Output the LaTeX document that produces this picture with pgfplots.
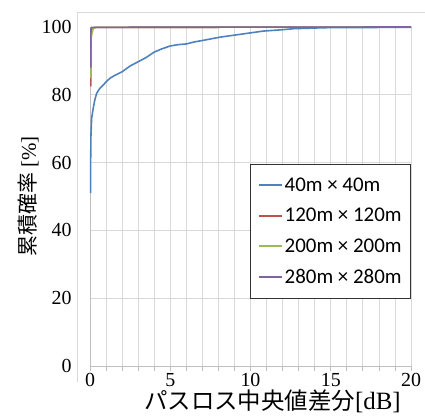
\documentclass[border=0pt]{standalone}
\usepackage{fontspec}
\setmainfont{Liberation Serif}
\newfontfamily\cjk{Noto Sans CJK JP}
\newfontfamily\legfont{Carlito}
\newfontfamily\tnr{Liberation Serif}
\usepackage{pgfplots}
\pgfplotsset{compat=1.18}
\definecolor{exblue}{HTML}{4F81BD}
\definecolor{exred}{HTML}{C0504D}
\definecolor{exgreen}{HTML}{9BBB59}
\definecolor{expurple}{HTML}{8064A2}
\definecolor{gridgray}{HTML}{D9D9D9}
\definecolor{axgray}{HTML}{BFBFBF}
\begin{document}
\begin{tikzpicture}
\begin{axis}[
  scale only axis,
  width=321bp, height=339bp,
  xmin=0, xmax=20, ymin=0, ymax=100,
  xtick={0,5,...,20},
  minor xtick={0,1,...,20},
  ytick={0,20,...,100},
  xmajorgrids, xminorgrids, ymajorgrids,
  grid style={gridgray, line width=0.8pt},
  minor grid style={gridgray, line width=0.8pt},
  axis x line*=bottom, axis y line*=left,
  axis line style={axgray, line width=0.8pt},
  x axis line style={-},
  y axis line style={-},
  tick align=outside,
  major tick length=5bp, minor tick length=5bp,
  xtick style={axgray, line width=0.8pt},
  ytick style={draw=none},
  /pgf/number format/assume math mode=true,
  xticklabel={\tnr\fontsize{20}{22}\selectfont\pgfmathprintnumber{\tick}},
  yticklabel={\tnr\fontsize{20}{22}\selectfont\pgfmathprintnumber{\tick}},
  yticklabel style={xshift=-10bp},
  xticklabel style={inner sep=0pt, yshift=-2bp},
  xlabel={\cjk\fontsize{23.5}{25}\selectfont パスロス中央値差分\tnr\fontsize{25}{26}\selectfont[dB]},
  ylabel={\cjk 累積確率\tnr\ [\%]},
  xlabel style={inner sep=0pt, xshift=22bp, yshift=-3bp},
  ylabel style={font=\fontsize{21}{23}\selectfont, yshift=-4bp},
  legend style={at={(rel axis cs:1,0.595)}, anchor=north east,
    draw=black!80, line width=0.8pt, font=\legfont\fontsize{21}{23}\selectfont,
    inner xsep=7bp, inner ysep=11bp, row sep=11.5bp, cells={anchor=west}},
  legend image code/.code={\draw[#1, line width=1.8pt] (0,0) -- (23bp,0);},
  legend cell align=left,
]
\addplot[exblue, line width=1.6pt] coordinates {
(0.03,51) (0.04,60) (0.06,68) (0.1,73) (0.2,76) (0.3,78.5) (0.42,80.5)
(0.6,81.8) (0.83,82.9) (1.0,83.8) (1.25,84.9) (1.5,85.6) (2.0,86.8)
(2.5,88.5) (3.1,90.0) (3.5,91.0) (4.0,92.6) (4.5,93.6) (5.0,94.4)
(5.5,94.8) (6.0,95.0) (6.5,95.6) (7.1,96.1) (8.1,97.0) (9.0,97.6)
(9.6,98.0) (10.8,98.8) (12.0,99.2) (12.7,99.5) (14.0,99.7) (14.8,99.8)
(17,99.85) (20,99.9)
};
\addlegendentry{40m × 40m}
\addplot[exred, line width=1.6pt] coordinates {
(0.05,82.5) (0.06,95) (0.1,99.5) (0.3,99.9) (20,100)
};
\addlegendentry{120m × 120m}
\addplot[exgreen, line width=1.6pt] coordinates {
(0.05,85) (0.06,97) (0.2,99.5) (0.4,99.9) (20,100)
};
\addlegendentry{200m × 200m}
\addplot[expurple, line width=1.6pt] coordinates {
(0.05,88) (0.06,99.5) (0.1,99.9) (20,100)
};
\addlegendentry{280m × 280m}
\end{axis}
\draw[gridgray, line width=0.8pt] (-13bp,-16bp) -- (-13bp,354bp) -- (340bp,354bp);
\pgfresetboundingbox
\path[use as bounding box] (-90bp,-52bp) rectangle (335bp,366bp);
\end{tikzpicture}
\end{document}
